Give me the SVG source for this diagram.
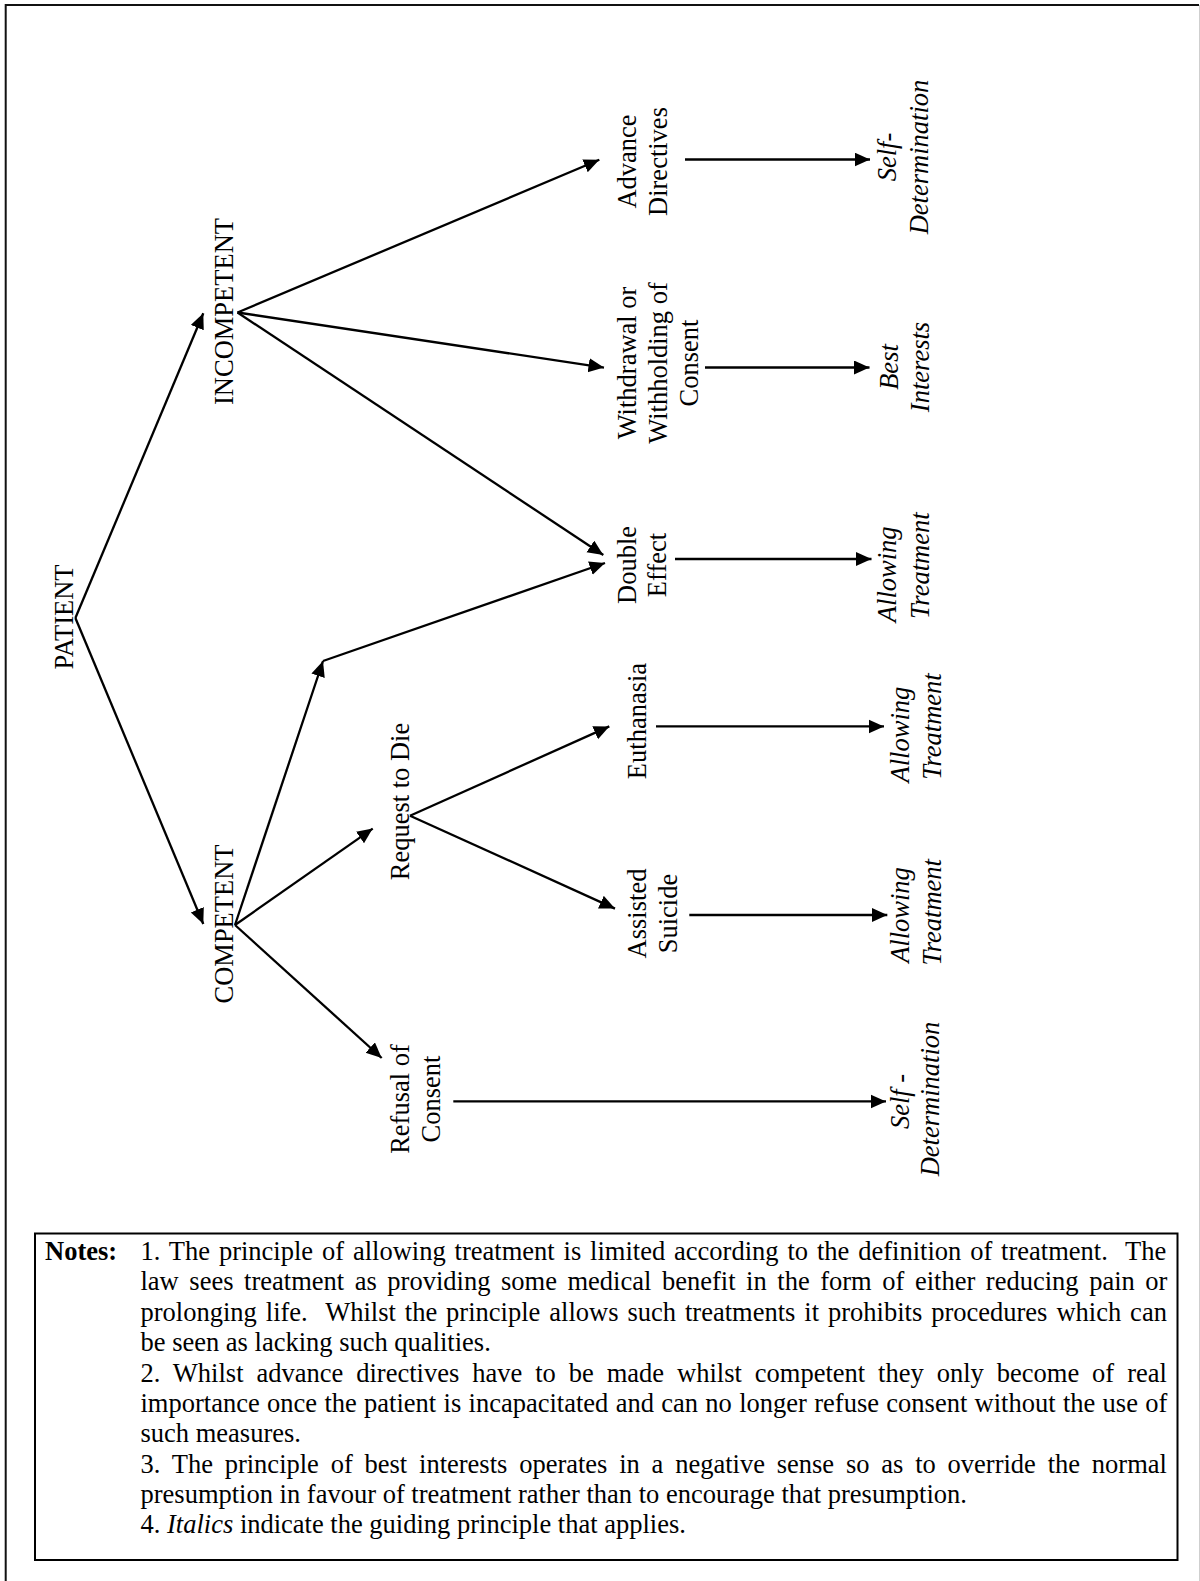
<svg xmlns="http://www.w3.org/2000/svg" width="1200" height="1581" viewBox="0 0 1200 1581">
<defs>
<marker id="ah" markerUnits="userSpaceOnUse" markerWidth="18" markerHeight="16" refX="15.5" refY="7" orient="auto">
<path d="M0,0 L15.5,7 L0,14 z" fill="#000"/>
</marker>
<style>
text{font-family:"Liberation Serif","Times New Roman",serif;font-size:26.5px;fill:#000}
.n text{text-anchor:middle}
.it{font-style:italic}
.c path{fill:none;stroke:#000;stroke-width:2.3;marker-end:url(#ah)}
</style>
</defs>
<rect width="1200" height="1581" fill="#fff"/>
<g id="frame">
<path d="M5.7,1581 V5 H1199" fill="none" stroke="#111" stroke-width="2"/>
<line x1="1199.5" y1="5" x2="1199.5" y2="1581" stroke="#cfcfcf" stroke-width="1"/>
</g>
<g id="connectors" class="c">
<path d="M75.4,618 L203.3,313.3"/>
<path d="M75.4,618 L203.3,924"/>
<path d="M237.5,312.5 L599.3,159.8"/>
<path d="M237.5,312.5 L604,367.6"/>
<path d="M237.5,312.5 L603.3,555"/>
<path d="M235,925 L323,661"/>
<path d="M323,661 L605,563"/>
<path d="M235,925 L372.7,828.6"/>
<path d="M235,925 L381.7,1058"/>
<path d="M410,815.7 L609.3,726.4"/>
<path d="M410,815.7 L615,908.6"/>
<path d="M685,159.5 H870"/>
<path d="M705,367.5 H869.5"/>
<path d="M675,559 H871.5"/>
<path d="M656,726.4 H884"/>
<path d="M689.3,915 H887.3"/>
<path d="M453.3,1101.4 H886"/>
</g>
<g class="n">
<g id="patient"><text transform="translate(72.5,617) rotate(-90)">PATIENT</text></g>
<g id="incompetent"><text transform="translate(233,311.5) rotate(-90)">INCOMPETENT</text></g>
<g id="competent"><text transform="translate(232.7,924) rotate(-90)">COMPETENT</text></g>
<g id="request"><text transform="translate(408.5,801.5) rotate(-90)">Request to Die</text></g>
<g id="refusal">
<text transform="translate(408.5,1099) rotate(-90)">Refusal of</text>
<text transform="translate(439.5,1099) rotate(-90)">Consent</text>
</g>
<g id="euthanasia"><text transform="translate(646,721) rotate(-90)">Euthanasia</text></g>
<g id="assisted">
<text transform="translate(645.5,913.5) rotate(-90)">Assisted</text>
<text transform="translate(677,913.5) rotate(-90)">Suicide</text>
</g>
<g id="advance">
<text transform="translate(635.5,161.5) rotate(-90)">Advance</text>
<text transform="translate(666.5,161.5) rotate(-90)">Directives</text>
</g>
<g id="withdrawal">
<text transform="translate(636,363) rotate(-90)">Withdrawal or</text>
<text transform="translate(666.5,363) rotate(-90)">Withholding of</text>
<text transform="translate(697.5,363) rotate(-90)">Consent</text>
</g>
<g id="double">
<text transform="translate(635.5,565) rotate(-90)">Double</text>
<text transform="translate(665.5,565) rotate(-90)">Effect</text>
</g>
<g id="selfdet1">
<text class="it" transform="translate(896,157) rotate(-90)">Self-</text>
<text class="it" transform="translate(927.5,157) rotate(-90)">Determination</text>
</g>
<g id="best">
<text class="it" transform="translate(897.5,367) rotate(-90)">Best</text>
<text class="it" transform="translate(929,367) rotate(-90)">Interests</text>
</g>
<g id="allow1">
<text class="it" transform="translate(895.8,574.3) rotate(-90)">Allowing</text>
<text class="it" transform="translate(929,565.7) rotate(-90)">Treatment</text>
</g>
<g id="allow2">
<text class="it" transform="translate(909,734.6) rotate(-90)">Allowing</text>
<text class="it" transform="translate(941,726.6) rotate(-90)">Treatment</text>
</g>
<g id="allow3">
<text class="it" transform="translate(909,915) rotate(-90)">Allowing</text>
<text class="it" transform="translate(941,912.3) rotate(-90)">Treatment</text>
</g>
<g id="selfdet2">
<text class="it" transform="translate(909,1101.5) rotate(-90)">Self -</text>
<text class="it" transform="translate(939,1099) rotate(-90)">Determination</text>
</g>
</g>
<g id="notes">
<rect x="35" y="1233.5" width="1142.5" height="326.5" fill="none" stroke="#000" stroke-width="2"/>
<text x="45" y="1260" font-weight="bold">Notes:</text>
<text x="140.5" y="1260" xml:space="preserve" word-spacing="2.27">1. The principle of allowing treatment is limited according to the definition of treatment.  The</text>
<text x="140.5" y="1290.4" word-spacing="3.95">law sees treatment as providing some medical benefit in the form of either reducing pain or</text>
<text x="140.5" y="1320.7" xml:space="preserve" word-spacing="2.34">prolonging life.  Whilst the principle allows such treatments it prohibits procedures which can</text>
<text x="140.5" y="1351.1">be seen as lacking such qualities.</text>
<text x="140.5" y="1381.5" word-spacing="6.33">2. Whilst advance directives have to be made whilst competent they only become of real</text>
<text x="140.5" y="1411.9" word-spacing="0.71">importance once the patient is incapacitated and can no longer refuse consent without the use of</text>
<text x="140.5" y="1442.2">such measures.</text>
<text x="140.5" y="1472.6" word-spacing="5.17">3. The principle of best interests operates in a negative sense so as to override the normal</text>
<text x="140.5" y="1503">presumption in favour of treatment rather than to encourage that presumption.</text>
<text x="140.5" y="1533.3">4. <tspan font-style="italic">Italics</tspan> indicate the guiding principle that applies.</text>
</g>
</svg>
